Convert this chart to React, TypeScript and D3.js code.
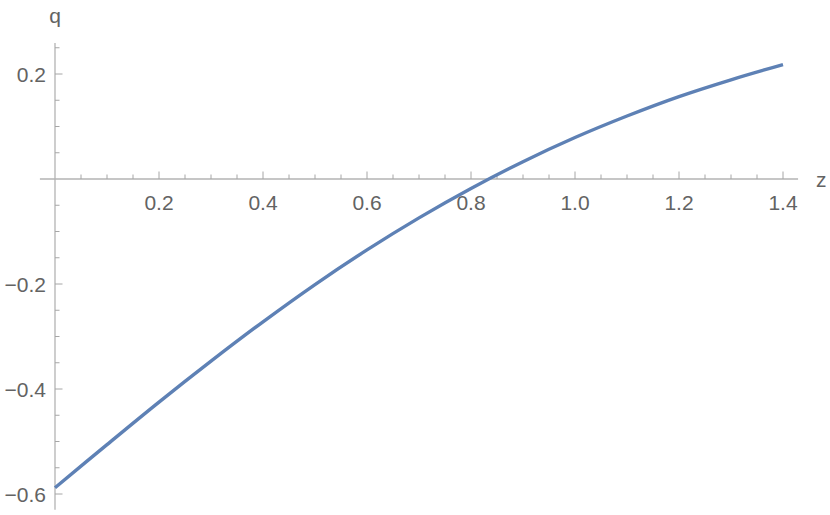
import * as d3 from "d3"
import { useEffect, useRef } from "react"

// curve
const zValues = [0, 0.1, 0.2, 0.3, 0.4, 0.5, 0.6, 0.7, 0.8, 0.9, 1.0, 1.1, 1.2, 1.3, 1.4]
const qValues = [
  -0.588, -0.506, -0.425, -0.347, -0.272, -0.201, -0.135, -0.074, -0.018, 0.033,
  0.079, 0.12, 0.157, 0.189, 0.218,
]
const xMajorTicks = [0.2, 0.4, 0.6, 0.8, 1.0, 1.2, 1.4]
const yMajorTicks = [-0.6, -0.4, -0.2, 0.2]

const WIDTH = 830
const HEIGHT = 515

const App = () => {
  const svgRef = useRef<SVGSVGElement | null>(null)

  useEffect(() => {
    if (!svgRef.current) return
    const svg = d3.select(svgRef.current)
    svg.selectAll("*").remove()

    const x = d3.scaleLinear().domain([0, 1.4]).range([55, 783])
    const y = d3.scaleLinear().domain([-0.6, 0.2]).range([494, 74])

    const axisColor = "#b3b3b3"
    const tickColor = "#a6a6a6"
    const labelColor = "#636363"
    const font = "21px 'Liberation Sans', Arial, sans-serif"

    const x0 = x(0)
    const y0 = y(0)

    // axis lines
    svg
      .append("line")
      .attr("x1", x(-0.029))
      .attr("x2", x(1.429))
      .attr("y1", y0)
      .attr("y2", y0)
      .attr("stroke", axisColor)
      .attr("stroke-width", 1.3)
    svg
      .append("line")
      .attr("x1", x0)
      .attr("x2", x0)
      .attr("y1", y(0.259))
      .attr("y2", y(-0.63))
      .attr("stroke", axisColor)
      .attr("stroke-width", 1.3)

    // x ticks (minor every 0.05, major every 0.2)
    const xTicks = d3.range(1, 29).map((i) => i * 0.05)
    svg
      .selectAll(".xtick")
      .data(xTicks)
      .enter()
      .append("line")
      .attr("x1", (d) => x(d))
      .attr("x2", (d) => x(d))
      .attr("y1", y0)
      .attr("y2", (_, i) => y0 - ((i + 1) % 4 === 0 ? 7.5 : 4.5))
      .attr("stroke", tickColor)
      .attr("stroke-width", 1)

    // y ticks
    const yTicks = d3.range(-12, 6).filter((i) => i !== 0).map((i) => i * 0.05)
    svg
      .selectAll(".ytick")
      .data(yTicks)
      .enter()
      .append("line")
      .attr("y1", (d) => y(d))
      .attr("y2", (d) => y(d))
      .attr("x1", x0)
      .attr("x2", (d) =>
        yMajorTicks.some((t) => Math.abs(t - d) < 1e-9) ? x0 + 7.5 : x0 + 4.5,
      )
      .attr("stroke", tickColor)
      .attr("stroke-width", 1)

    // tick labels
    svg
      .selectAll(".xlabel")
      .data(xMajorTicks)
      .enter()
      .append("text")
      .attr("x", (d) => x(d))
      .attr("y", y0 + 31)
      .attr("text-anchor", "middle")
      .attr("fill", labelColor)
      .style("font", font)
      .text((d) => d.toFixed(1))

    svg
      .selectAll(".ylabel")
      .data(yMajorTicks)
      .enter()
      .append("text")
      .attr("x", x0 - 9)
      .attr("y", (d) => y(d) + 8)
      .attr("text-anchor", "end")
      .attr("fill", labelColor)
      .style("font", font)
      .text((d) => (d < 0 ? `\u2212${Math.abs(d).toFixed(1)}` : d.toFixed(1)))

    // axis names
    svg
      .append("text")
      .attr("x", x0)
      .attr("y", 22.5)
      .attr("text-anchor", "middle")
      .attr("fill", labelColor)
      .style("font", font)
      .text("q")
    svg
      .append("text")
      .attr("x", 816)
      .attr("y", y0 + 8)
      .attr("fill", labelColor)
      .style("font", font)
      .text("z")

    // curve
    const pts = zValues.map((z, i) => [z, qValues[i]] as [number, number])
    const line = d3
      .line<[number, number]>()
      .x((d) => x(d[0]))
      .y((d) => y(d[1]))
      .curve(d3.curveCatmullRom)
    svg
      .append("path")
      .datum(pts)
      .attr("d", line)
      .attr("fill", "none")
      .attr("stroke", "#5e81b5")
      .attr("stroke-width", 3.4)
  }, [])

  return (
    <svg
      ref={svgRef}
      width={WIDTH}
      height={HEIGHT}
      style={{ position: "absolute", left: 0, top: 0, background: "#fff" }}
    />
  )
}

export default App
